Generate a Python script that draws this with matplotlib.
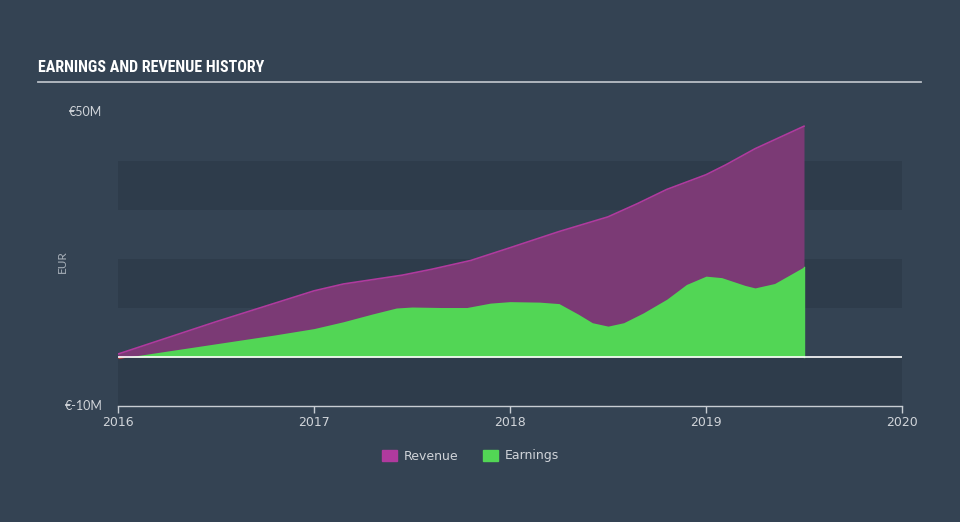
import numpy as np
import matplotlib.pyplot as plt
from matplotlib.patches import Patch
from matplotlib import font_manager

# values (year, EUR millions)
rev_x = [2016.0, 2016.5, 2017.0, 2017.15, 2017.3, 2017.45, 2017.6, 2017.8, 2018.0,
         2018.25, 2018.5, 2018.65, 2018.8, 2019.0, 2019.1, 2019.25, 2019.5]
rev_y = [0.6, 7.2, 13.5, 14.9, 15.8, 16.7, 17.9, 19.7, 22.3,
         25.6, 28.6, 31.3, 34.2, 37.2, 39.2, 42.5, 47.1]

earn_x = [2016.0, 2016.5, 2016.8, 2017.0, 2017.15, 2017.3, 2017.42, 2017.5, 2017.65,
          2017.78, 2017.9, 2018.0, 2018.15, 2018.25, 2018.35, 2018.42, 2018.5, 2018.58,
          2018.68, 2018.8, 2018.9, 2019.0, 2019.08, 2019.2, 2019.25, 2019.35, 2019.5]
earn_y = [-0.3, 2.7, 4.5, 5.8, 7.2, 8.8, 10.0, 10.2, 10.1,
          10.1, 11.0, 11.3, 11.2, 10.9, 8.7, 7.0, 6.3, 7.0,
          9.0, 11.8, 14.8, 16.5, 16.2, 14.6, 14.1, 15.0, 18.4]

year_ticks = [2016, 2017, 2018, 2019, 2020]

bg = '#344353'
band = '#2e3c4b'
rev_fill = '#7b3a75'
rev_line = '#b03a9e'
earn_col = '#52d655'
txt = '#d0d4d9'

# pick a narrow font for the title if one is installed
names = {f.name for f in font_manager.fontManager.ttflist}
title_font = 'DejaVu Sans'
for cand in ['Liberation Sans Narrow', 'DejaVu Sans Condensed', 'Roboto Condensed']:
    if cand in names:
        title_font = cand
        break

fig = plt.figure(figsize=(9.6, 5.22), dpi=100, facecolor=bg)
ax = fig.add_axes([118 / 960, 1 - 406 / 522, 784 / 960, 294 / 522])
ax.set_facecolor(bg)
ax.set_xlim(2016, 2020)
ax.set_ylim(-10, 50)

# darker horizontal bands
for lo, hi in [(-10, 0), (10, 20), (30, 40)]:
    ax.axhspan(lo, hi, color=band, lw=0, zorder=0)

ax.fill_between(rev_x, 0, rev_y, color=rev_fill, lw=0, zorder=2)
ax.plot(rev_x, rev_y, color=rev_line, lw=1.2, zorder=3)

ex = np.array(earn_x)
ey = np.array(earn_y)
ax.fill_between(ex, 0, ey, where=ey >= 0, interpolate=True, color=earn_col, lw=0, zorder=4)
ax.fill_between(ex, 0, ey, where=ey < 0, interpolate=True, color='#e0463c', lw=0, zorder=4)
ax.plot([2019.5, 2019.5], [0, earn_y[-1]], color=earn_col, lw=1, zorder=4)

ax.axhline(0, color='white', lw=1.2, zorder=5)

for s in ['top', 'right', 'left']:
    ax.spines[s].set_visible(False)
ax.spines['bottom'].set_color('#c8cdd3')
ax.spines['bottom'].set_linewidth(1)
ax.set_xticks(year_ticks)
ax.set_xticklabels([str(y) for y in year_ticks])
ax.tick_params(axis='x', colors='#c8cdd3', length=5, width=1, labelsize=9,
               labelcolor=txt, pad=2)
ax.set_yticks([])

ax.text(-0.02, 1.0, '€50M', transform=ax.transAxes, ha='right', va='center',
        color=txt, fontsize=9, family='Lato')
ax.text(-0.02, 0.0, '€-10M', transform=ax.transAxes, ha='right', va='center',
        color=txt, fontsize=9, family='Lato')
fig.text(62 / 960, 1 - 262 / 522, 'EUR', rotation=90, ha='center', va='center',
         color='#aab2bb', fontsize=8.5, family='Lato')

fig.text(38 / 960, 1 - 68 / 522, 'EARNINGS AND REVENUE HISTORY', ha='left', va='center',
         color='white', fontsize=11.5 if title_font != 'DejaVu Sans' else 10.5,
         fontweight='bold', family=title_font, fontstretch='condensed')
fig.add_artist(plt.Line2D([38 / 960, 921 / 960], [1 - 82 / 522, 1 - 82 / 522],
                          color='#b8bec6', lw=1.3))

handles = [Patch(color='#b03a9e', label='Revenue'), Patch(color=earn_col, label='Earnings')]
leg = fig.legend(handles=handles, loc='center', bbox_to_anchor=(0.49, 1 - 456 / 522),
                 ncol=2, frameon=False, fontsize=9, handlelength=1.2, handleheight=1.0,
                 columnspacing=2.0, handletextpad=0.5)
for t in leg.get_texts():
    t.set_color(txt)

fig.savefig('out.png', dpi=100, facecolor=bg)
